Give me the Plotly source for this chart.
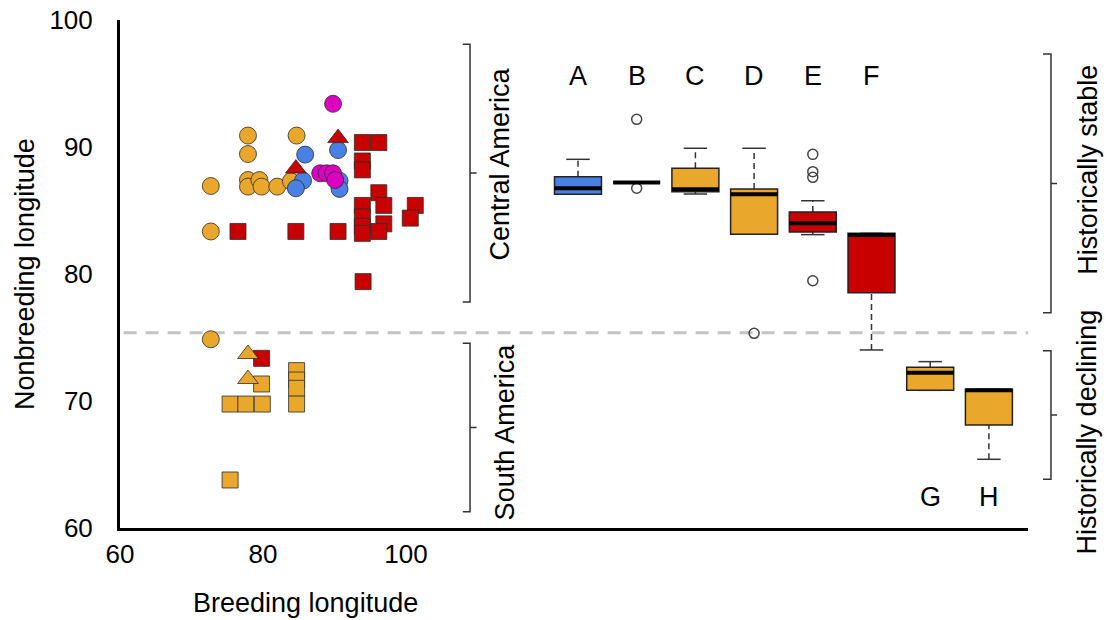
import plotly.graph_objects as go

# ---- scatter data: breeding vs nonbreeding longitude ----
orange_circle_x = [77.9, 84.7, 77.9, 72.7, 77.9, 77.9, 79.5, 79.8, 82.0, 83.9, 72.7, 72.7]
orange_circle_y = [90.9, 90.9, 89.45, 86.93, 87.4, 86.88, 87.4, 86.88, 86.88, 87.3, 83.35, 74.86]

blue_circle_x = [85.9, 90.5, 85.6, 84.6, 90.7, 90.7]
blue_circle_y = [89.4, 89.76, 87.35, 86.75, 87.35, 86.7]

magenta_circle_x = [89.8, 88.0, 88.9, 89.8, 90.1]
magenta_circle_y = [93.4, 87.93, 87.93, 87.93, 87.4]

red_triangle_x = [84.6, 90.5]
red_triangle_y = [88.3, 90.7]

orange_triangle_x = [77.9, 77.9]
orange_triangle_y = [73.7, 71.73]

red_square_x = [76.5, 84.6, 90.5, 93.9, 96.2, 93.9, 93.9, 96.2, 93.9, 96.9, 101.3,
                100.6, 93.9, 93.9, 96.9, 96.2, 93.9, 94.0, 79.8]
red_square_y = [83.35, 83.35, 83.35, 90.35, 90.35, 88.9, 88.2, 86.4, 85.4, 85.4, 85.4,
                84.4, 84.5, 83.75, 83.95, 83.35, 83.2, 79.4, 73.36]

orange_square_x = [79.8, 75.4, 77.6, 79.9, 84.7, 84.7, 84.7, 84.7, 75.4]
orange_square_y = [71.34, 69.76, 69.76, 69.76, 72.39, 71.65, 71.0, 69.76, 63.78]

# ---- box summaries per group ----
box_labels = ["A", "B", "C", "D", "E", "F", "G", "H"]
box_pos = [1, 2, 3, 4, 5, 6, 7, 8]
box_q1 = [86.28, 87.2, 86.48, 83.13, 83.3, 78.53, 70.84, 68.11]
box_med = [86.75, 87.2, 86.67, 86.27, 84.0, 83.07, 72.23, 70.84]
box_q3 = [87.66, 87.2, 88.32, 86.69, 84.88, 83.2, 72.65, 70.92]
box_lo = [86.28, 87.2, 86.3, 83.13, 83.1, 74.02, 70.84, 65.41]
box_hi = [89.03, 87.2, 89.9, 89.9, 85.77, 83.2, 73.1, 70.92]
box_colors = ["#4A80E4", "#DB00C0", "#E9A72C", "#E9A72C", "#C80000", "#C80000", "#E9A72C", "#E9A72C"]
outlier_pos = [2, 2, 4, 5, 5, 5, 5]
outlier_val = [92.18, 86.75, 75.33, 89.42, 88.06, 87.61, 79.47]
label_y_top = 95.6
label_y_bottom = 62.45
bottom_labelled = ["G", "H"]

# ---- region brackets ----
divider_y = 75.38
region_names = ["Central America", "South America"]
region_top = [98.1, 74.54]
region_bottom = [77.8, 61.28]
region_text_y = [88.7, 67.6]
trend_names = ["Historically stable", "Historically declining"]
trend_top = [97.32, 73.96]
trend_bottom = [76.95, 63.83]
trend_text_y = [88.2, 67.6]

ORANGE = "#E9A72C"
RED = "#C80000"
BLUE = "#4A80E4"
MAGENTA = "#DB00C0"
FONT = "Liberation Sans, Arial, sans-serif"

fig = go.Figure()

def add_points(xs, ys, color, symbol, size=17):
    fig.add_trace(go.Scatter(
        x=xs, y=ys, mode="markers", showlegend=False, hoverinfo="skip",
        marker=dict(color=color, symbol=symbol, size=size,
                    line=dict(color="rgba(45,45,45,0.8)", width=1)),
    ))

add_points(orange_circle_x, orange_circle_y, ORANGE, "circle")
add_points(blue_circle_x, blue_circle_y, BLUE, "circle")
add_points(magenta_circle_x, magenta_circle_y, MAGENTA, "circle")
add_points(red_triangle_x, red_triangle_y, RED, "triangle-up", 18)
add_points(red_square_x, red_square_y, RED, "square", 16)
add_points(orange_square_x, orange_square_y, ORANGE, "square", 16)
add_points(orange_triangle_x, orange_triangle_y, ORANGE, "triangle-up", 18)

# boxplots on a secondary x axis (group positions 1..8)
half = 0.4
cap = 0.2
shapes = []
for p, q1, md, q3, lo, hi, col in zip(box_pos, box_q1, box_med, box_q3, box_lo, box_hi, box_colors):
    common = dict(xref="x2", yref="y", layer="above")
    # whiskers
    if hi > q3:
        shapes.append(dict(type="line", x0=p, x1=p, y0=q3, y1=hi,
                           line=dict(color="#333", width=1.5, dash="6px,4px"), **common))
    if lo < q1:
        shapes.append(dict(type="line", x0=p, x1=p, y0=lo, y1=q1,
                           line=dict(color="#333", width=1.5, dash="6px,4px"), **common))
    shapes.append(dict(type="line", x0=p - cap, x1=p + cap, y0=hi, y1=hi,
                       line=dict(color="#333", width=1.5), **common))
    shapes.append(dict(type="line", x0=p - cap, x1=p + cap, y0=lo, y1=lo,
                       line=dict(color="#333", width=1.5), **common))
    shapes.append(dict(type="rect", x0=p - half, x1=p + half, y0=q1, y1=q3,
                       fillcolor=col, line=dict(color="#222", width=1.5), **common))
    shapes.append(dict(type="line", x0=p - half, x1=p + half, y0=md, y1=md,
                       line=dict(color="black", width=4), **common))

fig.add_trace(go.Scatter(
    x=outlier_pos, y=outlier_val, xaxis="x2", mode="markers", showlegend=False,
    hoverinfo="skip",
    marker=dict(symbol="circle-open", size=10, color="#444", line=dict(width=1.5)),
))

# divider between Central and South America
shapes.append(dict(type="line", xref="paper", yref="y", x0=0.004, x1=1.0,
                   y0=divider_y, y1=divider_y,
                   line=dict(color="#C4C4C4", width=3, dash="13px,9px"), layer="below"))

# brackets
def bracket(xv, hook, tick, top, bottom):
    mid = (top + bottom) / 2
    return dict(type="path", xref="paper", yref="y",
                path=f"M {hook} {top} L {xv} {top} L {xv} {bottom} L {hook} {bottom} "
                     f"M {xv} {mid} L {tick} {mid}",
                line=dict(color="#333", width=1.5))

for t, b in zip(region_top, region_bottom):
    shapes.append(bracket(0.3855, 0.3775, 0.3927, t, b))
for t, b in zip(trend_top, trend_bottom):
    shapes.append(bracket(1.0253, 1.0165, 1.032, t, b))

def text_note(text, x, y, xref, yref, size, angle=0):
    return dict(text=text, xref=xref, yref=yref, x=x, y=y, textangle=angle,
                xanchor="center", yanchor="middle", showarrow=False,
                font=dict(size=size, color="black", family=FONT))

annotations = []
for name, ty, xp in zip(region_names, region_text_y, [0.4185, 0.425]):
    annotations.append(text_note(name, xp, ty, "paper", "y", 27, -90))
for name, ty in zip(trend_names, trend_text_y):
    annotations.append(text_note(name, 1.066, ty, "paper", "y", 27, -90))
for lab, p in zip(box_labels, box_pos):
    ly = label_y_bottom if lab in bottom_labelled else label_y_top
    annotations.append(text_note(lab, p, ly, "x2", "y", 27))

annotations.append(text_note("Nonbreeding longitude", -0.1046, 80, "paper", "y", 27, -90))
annotations.append(text_note("Breeding longitude", 85.9, -0.1476, "x", "paper", 27))

fig.update_layout(
    width=1109, height=620,
    margin=dict(l=120, r=81, t=20, b=92, autoexpand=False),
    plot_bgcolor="white", paper_bgcolor="white",
    font=dict(family=FONT, color="black"),
    xaxis=dict(range=[60, 187], tickvals=[60, 80, 100], showline=True, linecolor="black",
               linewidth=3, showgrid=False, zeroline=False, ticks="outside", ticklen=1,
               tickcolor="rgba(0,0,0,0)", tickfont=dict(size=26), automargin=False),
    xaxis2=dict(range=[-6.802, 8.666], overlaying="x", visible=False),
    yaxis=dict(range=[60, 100], tickvals=[60, 70, 80, 90, 100], showline=True,
               linecolor="black", linewidth=3, showgrid=False, zeroline=False,
               ticks="outside", ticklen=19, tickcolor="rgba(0,0,0,0)",
               tickfont=dict(size=26), automargin=False),
    shapes=shapes,
    annotations=annotations,
    showlegend=False,
)

fig.write_html("out.html")
